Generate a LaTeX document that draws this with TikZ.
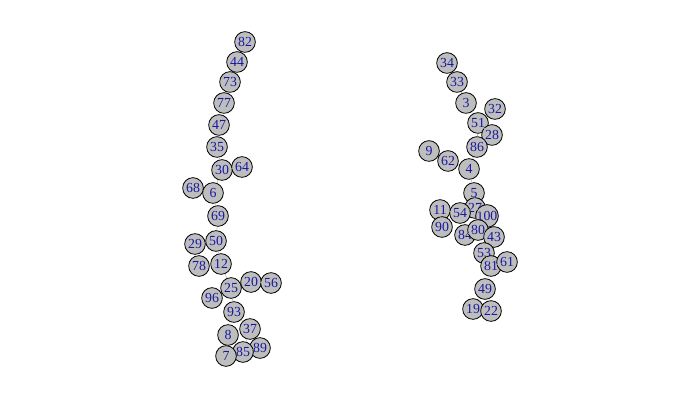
\documentclass[tikz,border=0pt]{standalone}
\usepackage{fontspec}
\setmainfont{Liberation Serif}
\definecolor{vfill}{HTML}{BEBEBE}
\definecolor{vlabel}{HTML}{1818A0}
\definecolor{elink}{HTML}{BBBBBB}
\tikzset{
  vtx/.style={circle, draw=black, fill=vfill, line width=0.7pt, minimum size=0.62cm,
    inner sep=0pt, text=vlabel, font=\fontsize{11.8}{12}\selectfont},
  elink/.style={draw=elink, line width=0.5pt}
}

\begin{document}
\begin{tikzpicture}[x=0.03cm, y=-0.03cm]
  \useasboundingbox (0,0) rectangle (700,400);
  % left component
  \foreach \n/\x/\y in {82/245/42, 44/237/62, 73/230/82, 77/224/103, 47/219/125,
      35/217/147, 30/222/170, 64/242/167, 68/193/188, 6/213/193, 69/218/216,
      29/195/244, 50/216/241, 78/199/266, 12/221/264, 25/231/288, 20/251/282,
      56/271/283, 96/212/298, 93/234/312, 37/250/329, 8/228/335, 89/260/348,
      85/243/352, 7/226/356}
    \node[vtx] (v\n) at (\x,\y) {\n};
  % right component
  \foreach \n/\x/\y in {34/447/63, 33/457/82, 3/466/103, 32/495/109, 51/478/123,
      28/492/135, 86/477/147, 9/429/151, 62/448/161, 4/469/169, 5/474/193,
      27/475/208, 11/440/210, 54/460/213, 100/487/216, 90/442/227, 84/465/235,
      80/478/230, 43/494/237, 53/484/253, 81/491/266, 61/507/262, 49/485/289,
      19/473/309, 22/491/311}
    \node[vtx] (v\n) at (\x,\y) {\n};
  % links
  \foreach \a/\b in {82/44, 44/73, 73/77, 77/47, 47/35, 35/30, 30/64, 30/6, 6/68,
      6/69, 69/50, 50/29, 50/12, 12/78, 12/25, 25/20, 20/56, 25/96, 25/93, 93/8,
      93/37, 8/7, 37/85, 85/89,
      34/33, 33/3, 3/51, 51/32, 51/28, 51/86, 86/4, 4/62, 62/9, 4/5, 5/27, 27/54,
      54/11, 11/90, 27/100, 27/80, 80/84, 80/43, 80/53, 53/81, 81/61, 81/49,
      49/19, 49/22}
    \draw[elink] (v\a) -- (v\b);
\end{tikzpicture}
\end{document}
